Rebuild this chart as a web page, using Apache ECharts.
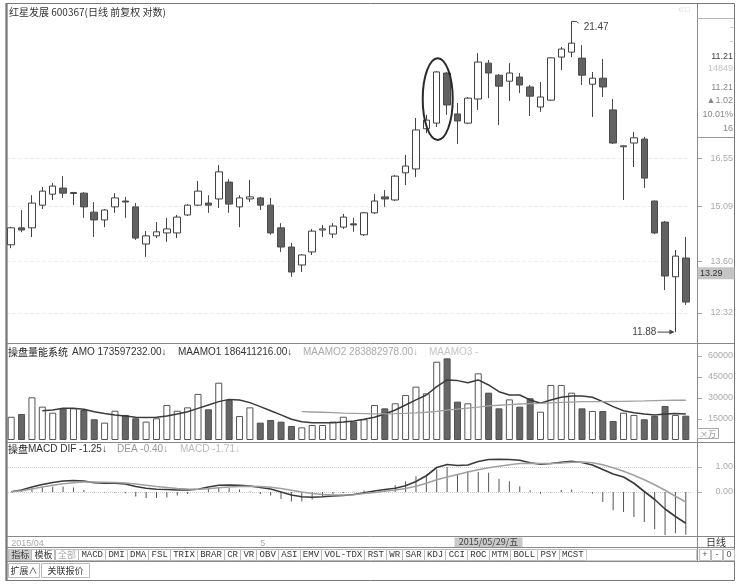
<!DOCTYPE html>
<html><head><meta charset="utf-8">
<script src="https://cdn.jsdelivr.net/npm/echarts@6/dist/echarts.min.js"></script>
<style>html,body{margin:0;padding:0;background:#fff}#c{width:741px;height:586px}</style>
</head><body><div id="c"></div>
<script>
// ---------- data ----------
// candles: [open, close, low, high]
const ohlc = [
[14.03,14.49,13.94,14.52],[14.49,14.43,14.37,14.99],[14.49,15.19,14.24,15.42],[15.13,15.54,15.02,15.66],
[15.45,15.69,15.28,15.78],[15.63,15.48,15.34,15.99],[15.47,15.50,15.13,15.51],[15.48,15.08,14.77,15.51],
[14.93,14.71,14.24,15.22],[14.71,14.99,14.51,15.02],[15.08,15.34,14.91,15.48],[15.25,15.22,14.77,15.37],
[15.08,14.21,14.16,15.19],[14.05,14.27,13.71,14.40],[14.27,14.38,14.21,14.65],[14.35,14.46,14.11,14.77],
[14.35,14.79,14.21,14.85],[14.85,15.13,14.82,15.16],[15.13,15.54,15.10,15.84],[15.19,15.13,14.91,15.42],
[15.31,16.12,15.05,16.33],[15.81,15.16,14.91,15.90],[15.08,15.34,14.51,15.42],[15.31,15.37,15.22,15.87],
[15.34,15.13,14.99,15.37],[15.13,14.35,14.30,15.34],[14.49,13.97,13.84,14.62],[13.97,13.32,13.20,14.08],
[13.50,13.76,13.32,13.78],[13.84,14.40,13.76,14.46],[14.43,14.46,14.24,14.57],[14.32,14.54,14.21,14.62],
[14.51,14.79,14.46,14.88],[14.60,14.57,14.38,14.77],[14.30,14.91,14.27,14.93],[14.91,15.25,14.88,15.45],
[15.37,15.31,15.08,15.57],[15.28,15.99,15.25,16.02],[16.09,16.30,15.72,16.65],[16.21,17.46,15.96,17.86],
[17.50,17.79,17.36,17.97],[17.69,19.50,17.56,19.53],[19.46,18.31,17.97,19.50],[18.00,17.76,17.00,18.38],
[17.69,18.55,17.66,18.59],[18.52,19.87,18.14,20.21],[19.83,19.46,18.55,19.95],[19.38,18.98,17.62,19.42],
[19.16,19.46,18.45,19.83],[19.31,19.02,18.73,19.46],[18.95,18.62,17.93,19.02],[18.24,18.59,18.07,19.13],
[18.48,20.03,18.45,20.06],[20.06,20.37,19.57,20.45],[20.25,20.60,20.06,21.47],[20.02,19.38,19.02,20.52],
[19.05,19.27,17.90,19.50],[19.27,18.95,18.59,19.99],[18.14,17.03,17.00,18.52],[16.91,16.94,15.28,16.95],
[17.03,17.20,16.27,17.39],[17.16,15.93,15.63,17.23],[15.25,14.35,14.32,15.26],[14.65,13.22,12.87,14.68],
[13.20,13.73,11.88,13.89],[13.68,12.58,12.51,14.24]
];
// turnover amount (x 10k yuan)
const amo = [16600,18600,30500,23800,19500,22600,22600,21400,14800,12400,20900,17900,15500,13100,15500,25000,
20900,23300,32900,21900,40900,28600,17100,23300,12400,14300,13100,10000,9000,10700,10700,13100,16600,13100,14800,
25000,22600,26200,32100,38100,33300,55900,58300,27400,26200,47600,33800,22600,29000,23800,29800,20200,39300,39300,
33800,22600,20700,20700,13600,19500,17900,14800,17100,24300,17900,17360];
const maamo1 = ['-','-','-',20900,21400,22600,22600,21900,20200,19000,17900,17100,16200,16000,16200,17100,18600,
20200,22600,25000,27400,29000,28600,26700,23800,20900,17900,14800,13100,12400,12400,12400,12900,13600,14800,16200,
18600,21400,25000,28600,32100,38100,42900,42400,40900,42900,39300,34500,32100,32100,28600,26200,28600,30500,31400,
31400,30500,27400,23800,20900,19500,18600,17900,18600,19000,18641];
const maamo2 = ['-','-','-','-','-','-','-','-','-','-','-','-','-','-','-','-','-','-','-','-','-','-','-','-','-','-','-','-',
20200,20000,19800,19500,19200,19000,18800,18600,18700,18800,19000,19300,19800,20500,21400,22000,22800,23500,24300,
24800,25300,25700,26000,26200,26500,26800,27100,27400,27400,27400,27500,27600,27800,27900,28100,28300,28400,28388];
const dif = [0.01,0.08,0.20,0.30,0.38,0.44,0.46,0.44,0.37,0.35,0.35,0.32,0.22,0.15,0.11,0.10,0.08,0.08,0.11,0.20,
0.27,0.28,0.27,0.24,0.18,0.12,0.00,-0.12,-0.19,-0.21,-0.19,-0.16,-0.14,-0.10,-0.03,0.04,0.10,0.15,0.25,0.42,0.65,
0.98,1.10,1.06,1.08,1.22,1.30,1.31,1.30,1.27,1.17,1.11,1.14,1.19,1.23,1.18,1.08,0.90,0.72,0.60,0.35,0.02,-0.30,
-0.68,-0.98,-1.25];
const dea = [0.01,0.05,0.12,0.20,0.27,0.33,0.37,0.40,0.40,0.39,0.38,0.36,0.32,0.27,0.22,0.18,0.14,0.12,0.11,0.13,
0.17,0.20,0.22,0.23,0.22,0.19,0.14,0.07,0.00,-0.06,-0.10,-0.12,-0.12,-0.11,-0.06,-0.02,0.03,0.08,0.14,0.23,0.35,
0.49,0.60,0.70,0.80,0.89,0.97,1.03,1.09,1.14,1.15,1.14,1.14,1.16,1.19,1.20,1.17,1.09,0.97,0.83,0.67,0.49,0.29,
0.07,-0.17,-0.40];
const macd = [0.00,0.06,0.16,0.20,0.22,0.22,0.18,0.08,-0.02,-0.02,-0.03,-0.05,-0.18,-0.24,-0.24,-0.22,-0.14,-0.08,
0.00,0.14,0.20,0.16,0.10,0.02,-0.08,-0.14,-0.28,-0.38,-0.38,-0.30,-0.18,-0.08,-0.04,0.02,0.06,0.03,0.08,0.27,0.43,
0.63,0.70,0.90,1.00,0.70,0.83,0.80,0.77,0.53,0.43,0.23,0.07,-0.07,-0.02,0.08,0.10,0.02,-0.07,-0.40,-0.73,-0.80,
-1.00,-1.20,-1.49,-1.72,-1.65,-1.71];
const priceTicks = [12.32, 13.60, 15.09, 16.55];
const volTicks = [15000, 30000, 45000, 60000];
const macdTicks = [0, 1];
const xTickIndex = [0, 24, 44];
const xTickText = ['2015/04', '5', '6'];
const cursorIndex = 43, cursorText = '2015/05/29/五', cursorPrice = 13.29;

// ---------- chart ----------
const chart = echarts.init(document.getElementById('c'));
const cats = ohlc.map((_, i) => i);
const up = i => ohlc[i][1] >= ohlc[i][0];
const GL = 6, GW = 685;
const FONT = '"Liberation Sans", Arial, sans-serif';
const CJK = '"Noto Sans CJK SC", sans-serif';

const xBase = {type:'category', data:cats, boundaryGap:true, axisLine:{show:false}, axisTick:{show:false}, axisLabel:{show:false}, splitLine:{show:false}};
const yBase = {position:'right', offset:6, axisLine:{show:false},
  axisTick:{show:true, length:5, lineStyle:{color:'#aaa'}},
  axisLabel:{color:'#aaa', fontSize:9, fontFamily:FONT, align:'right', margin:36}};

const option = {
  animation:false,
  backgroundColor:'#fff',
  grid:[
    {left:GL, width:GW, top:18, height:325},
    {left:GL, width:GW, top:347, height:93},
    {left:GL, width:GW, top:444, height:92}
  ],
  xAxis:[
    Object.assign({}, xBase, {gridIndex:0}),
    Object.assign({}, xBase, {gridIndex:1}),
    Object.assign({}, xBase, {gridIndex:2, axisLabel:{show:true, color:'#aaa', fontSize:9, fontFamily:FONT, align:'left', margin:3,
      interval:(i)=>xTickIndex.indexOf(i) >= 0,
      formatter:(v, i)=>{const k = xTickIndex.indexOf(i); return k >= 0 ? xTickText[k] : '';}}})
  ],
  yAxis:[
    Object.assign({}, yBase, {gridIndex:0, type:'log', logBase:10, min:11.636, max:21.61,
      axisTick:Object.assign({}, yBase.axisTick, {customValues:priceTicks}),
      axisLabel:Object.assign({}, yBase.axisLabel, {customValues:priceTicks, formatter:v=>v.toFixed(2)}),
      splitLine:{show:true, lineStyle:{color:'#efefef', type:'dashed'}}}),
    Object.assign({}, yBase, {gridIndex:1, type:'value', min:0, max:66400,
      axisTick:Object.assign({}, yBase.axisTick, {customValues:volTicks}),
      axisLabel:Object.assign({}, yBase.axisLabel, {customValues:volTicks, formatter:v=>String(v)}),
      splitLine:{show:false}}),
    Object.assign({}, yBase, {gridIndex:2, type:'value', min:-1.76, max:1.92,
      axisTick:Object.assign({}, yBase.axisTick, {customValues:macdTicks}),
      axisLabel:Object.assign({}, yBase.axisLabel, {customValues:macdTicks, formatter:v=>v.toFixed(2)}),
      splitLine:{show:true, lineStyle:{color:'#cfcfcf', type:'dotted'}}})
  ],
  series:[
    {type:'candlestick', xAxisIndex:0, yAxisIndex:0, data:ohlc, barWidth:7,
      itemStyle:{color:'#ffffff', color0:'#626262', borderColor:'#404040', borderColor0:'#4a4a4a', borderWidth:1}},
    {type:'bar', xAxisIndex:1, yAxisIndex:1, barWidth:7,
      data:amo.map((v,i)=>({value:v, itemStyle: up(i) ? {color:'#ffffff', borderColor:'#555', borderWidth:1} : {color:'#666', borderColor:'#505050', borderWidth:1}}))},
    {type:'line', xAxisIndex:1, yAxisIndex:1, data:maamo1, showSymbol:false, lineStyle:{color:'#3a3a3a', width:1.5}},
    {type:'line', xAxisIndex:1, yAxisIndex:1, data:maamo2, showSymbol:false, lineStyle:{color:'#a0a0a0', width:1.3}},
    {type:'bar', xAxisIndex:2, yAxisIndex:2, data:macd, barWidth:1, itemStyle:{color:'#555'}},
    {type:'line', xAxisIndex:2, yAxisIndex:2, data:dif, showSymbol:false, lineStyle:{color:'#3a3a3a', width:1.6}},
    {type:'line', xAxisIndex:2, yAxisIndex:2, data:dea, showSymbol:false, lineStyle:{color:'#a0a0a0', width:1.5}}
  ]
};
chart.setOption(option);

// ---------- frame, texts and annotations ----------
const g = [];
const line = (x1,y1,x2,y2,c,w) => g.push({type:'line', silent:true, z:50, shape:{x1,y1,x2,y2}, style:{stroke:c||'#777', lineWidth:w||1}});
const txt = (x,y,t,o) => g.push({type:'text', silent:true, z:60, x, y, style:Object.assign({text:t, font:'10px '+FONT, fill:'#333', textVerticalAlign:'middle'}, o||{})});
const rect = (x,y,w,h,fill,stroke) => g.push({type:'rect', silent:true, z:55, shape:{x,y,width:w,height:h}, style:{fill:fill||'none', stroke:stroke||'none', lineWidth:1}});

// outer frame & separators
rect(6.5, 3.5, 728, 577, 'none', '#777');
line(6.5, 3, 6.5, 581, '#555', 2);
line(697.5, 3, 697.5, 561, '#888');
[343.5, 442.5, 536.5, 547.5, 561.5].forEach(y => line(6, y, 735, y, '#888'));
line(697, 18.5, 735, 18.5, '#bbb');
line(697, 137.5, 735, 137.5, '#999');

// titles
txt(9, 12, '红星发展 600367(日线 前复权 对数)', {font:'10px '+CJK, fill:'#333'});
txt(8, 352, '操盘量能系统', {font:'10px '+CJK, fill:'#222'});
txt(72, 352, 'AMO 173597232.00↓', {font:'10px '+FONT, fill:'#333'});
txt(178, 352, 'MAAMO1 186411216.00↓', {font:'10px '+FONT, fill:'#333'});
txt(303, 352, 'MAAMO2 283882978.00↓', {font:'10px '+FONT, fill:'#aaa'});
txt(429, 352, 'MAAMO3 -', {font:'10px '+FONT, fill:'#c4c4c4'});
txt(8, 449, '操盘', {font:'10px '+CJK, fill:'#222'});
txt(28, 449, 'MACD DIF -1.25↓', {font:'10px '+FONT, fill:'#333'});
txt(117, 449, 'DEA -0.40↓', {font:'10px '+FONT, fill:'#999'});
txt(180, 449, 'MACD -1.71↓', {font:'10px '+FONT, fill:'#bbb'});

// right info panel
const info = [[28,'-','#999'],[42,'-','#999'],[57,'11.21','#444'],[69,'14849','#c4c4c4'],[88,'11.21','#888'],[101,'▲1.02','#888'],[115,'10.01%','#888'],[129,'16','#888']];
info.forEach(r => txt(733, r[0], r[1], {fill:r[2], textAlign:'right', font:'9px '+FONT}));
txt(684, 10, '⊂□', {fill:'#ccc', font:'8px '+FONT, textAlign:'center'});

// volume unit box
rect(697.5, 428.5, 21, 10, '#fff', '#aaa');
txt(708, 434, '×万', {font:'8px '+CJK, fill:'#888', textAlign:'center'});

// date row right label
txt(716, 542, '日线', {font:'10px '+CJK, fill:'#333', textAlign:'center'});

// toolbar
const tools = ['指标','模板','全部','MACD','DMI','DMA','FSL','TRIX','BRAR','CR','VR','OBV','ASI','EMV','VOL-TDX','RST','WR','SAR','KDJ','CCI','ROC','MTM','BOLL','PSY','MCST'];
const cv = document.createElement('canvas').getContext('2d');
let tx = 8;
tools.forEach((t, i) => {
  const cjk = /[\u4e00-\u9fff]/.test(t);
  const f = cjk ? '9px '+CJK : '9px "Liberation Mono", monospace';
  cv.font = f;
  const w = cv.measureText(t).width + 5.4;
  rect(Math.round(tx) + 0.5, 549.5, Math.round(w), 11, i === 0 ? '#cfcfcf' : '#fff', '#bbb');
  txt(tx + w/2 + 0.5, 555, t, {font:f, fill: t === '全部' ? '#aaa' : '#333', textAlign:'center'});
  tx += w;
});
tx = Math.round(tx);
rect(tx + 0.5, 549.5, 697 - tx - 1, 11, '#fff', '#ccc');
['+','-','0'].forEach((t, i) => {
  rect(699.5 + i*12, 549.5, 11, 11, '#fff', '#bbb');
  txt(705 + i*12, 555, t, {font:'9px '+FONT, fill:'#555', textAlign:'center'});
});
// bottom row
rect(8.5, 563.5, 31, 14, '#fff', '#bbb');
txt(24, 570.5, '扩展∧', {font:'9px '+CJK, fill:'#333', textAlign:'center'});
rect(41.5, 563.5, 48, 14, '#fff', '#bbb');
txt(65.5, 570.5, '关联报价', {font:'9px '+CJK, fill:'#333', textAlign:'center'});

// annotations from data
const P = (j, v) => chart.convertToPixel({seriesIndex:0}, [j, v]);
let hi = 0, lo = 0;
ohlc.forEach((d, i) => { if (d[3] > ohlc[hi][3]) hi = i; if (d[2] < ohlc[lo][2]) lo = i; });
const hp = P(hi, ohlc[hi][3]);
g.push({type:'polyline', silent:true, z:60, shape:{points:[[hp[0], hp[1]], [hp[0]+5, hp[1]], [hp[0]+7, hp[1]+2]]}, style:{stroke:'#444', lineWidth:1, fill:'none'}});
txt(hp[0]+12, hp[1]+6, ohlc[hi][3].toFixed(2), {font:'10px '+FONT, fill:'#444'});
const lp = P(lo, ohlc[lo][2]);
txt(lp[0]-19, lp[1], ohlc[lo][2].toFixed(2), {font:'10px '+FONT, fill:'#444', textAlign:'right'});
line(lp[0]-18, lp[1], lp[0]-2, lp[1], '#444', 1);
g.push({type:'polygon', silent:true, z:60, shape:{points:[[lp[0]-1, lp[1]], [lp[0]-6, lp[1]-2.5], [lp[0]-6, lp[1]+2.5]]}, style:{fill:'#444'}});
// circled candle
const c1 = P(41, ohlc[41][3]), c2 = P(41, ohlc[41][2]);
g.push({type:'ellipse', silent:true, z:60, shape:{cx:c1[0]+1, cy:(c1[1]+c2[1])/2, rx:15, ry:(c2[1]-c1[1])/2 + 13}, style:{fill:'none', stroke:'#2a2a2a', lineWidth:2}});
// current price box
const cp = P(0, cursorPrice);
rect(697.5, cp[1]-6, 37, 12, '#c4c4c4', 'none');
txt(700, cp[1], cursorPrice.toFixed(2), {font:'9px '+FONT, fill:'#333'});
// cursor date box
const cd = P(cursorIndex, ohlc[cursorIndex][1]);
rect(cd[0]-3, 537.5, 68, 9.5, '#c9c9c9', 'none');
txt(cd[0]+31, 542, cursorText, {font:'9px '+CJK, fill:'#444', textAlign:'center'});

chart.setOption({graphic:g});
</script>
</body></html>
